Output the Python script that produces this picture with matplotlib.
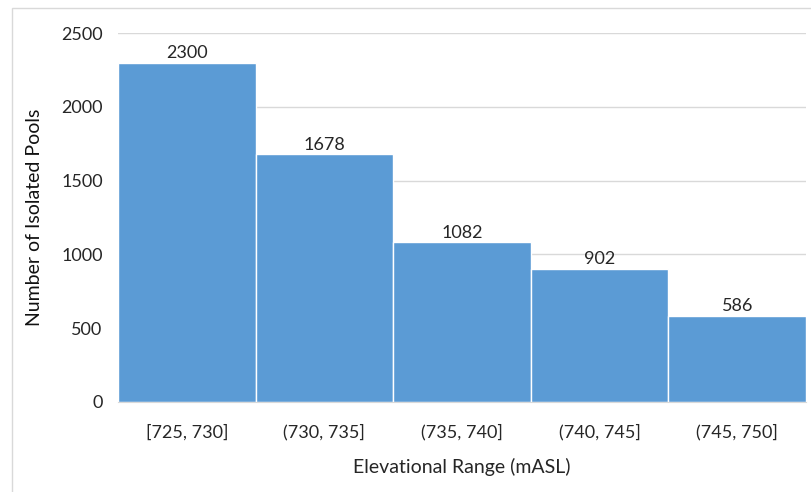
import matplotlib.pyplot as plt
from matplotlib.patches import Rectangle

# elevation bins and pool counts
ranges = ["[725, 730]", "(730, 735]", "(735, 740]", "(740, 745]", "(745, 750]"]
pools = [2300, 1678, 1082, 902, 586]
y_ticks = [0, 500, 1000, 1500, 2000, 2500]

plt.rcParams['font.family'] = ['Lato', 'DejaVu Sans']

fig = plt.figure(figsize=(8.11, 4.92), dpi=100)
ax = fig.add_axes([118 / 811, 1 - 402 / 492, 688 / 811, 369 / 492])

# thin chart-area frame
fig.patches.append(Rectangle((12 / 811, -0.1), 1.1, 1 - 8 / 492 + 0.1,
                             transform=fig.transFigure, fill=False,
                             edgecolor="#D9D9D9", linewidth=1))

x = range(len(ranges))
bars = ax.bar(x, pools, width=1.0, color="#5B9BD5", edgecolor="white",
              linewidth=1, zorder=2)
for b, v in zip(bars, pools):
    ax.text(b.get_x() + b.get_width() / 2, v + 12, str(v), ha="center",
            va="bottom", fontsize=13, color="#262626")

ax.set_xlim(-0.5, len(ranges) - 0.5)
ax.set_ylim(0, 2500)
ax.set_yticks(y_ticks)
ax.set_xticks(list(x))
ax.set_xticklabels(ranges)
ax.tick_params(axis="both", length=0, labelsize=13, colors="#262626")
ax.tick_params(axis="y", pad=11)
ax.tick_params(axis="x", pad=16)
ax.grid(axis="y", color="#D9D9D9", linewidth=1, zorder=0)
for s in ["top", "right", "left"]:
    ax.spines[s].set_visible(False)
ax.spines["bottom"].set_color("#D9D9D9")

ax.set_ylabel("Number of Isolated Pools", fontsize=14, color="#111111", labelpad=13)
ax.set_xlabel("Elevational Range (mASL)", fontsize=14, color="#262626", labelpad=12)

fig.savefig("out.png", dpi=100)
